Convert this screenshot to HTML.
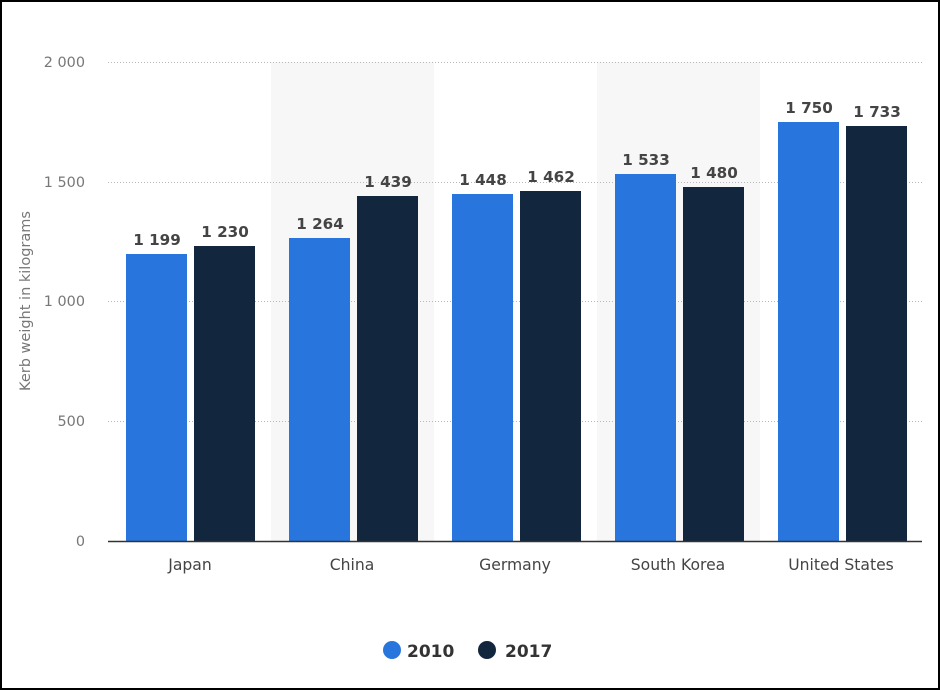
<!DOCTYPE html>
<html><head><meta charset="utf-8"><style>
html,body{margin:0;padding:0;background:#fff}
svg{display:block}
text{font-family:"DejaVu Sans","Liberation Sans",sans-serif}
</style></head><body>
<svg width="940" height="690" viewBox="0 0 940 690" xmlns="http://www.w3.org/2000/svg">
<rect x="1" y="1" width="938" height="688" fill="#fff" stroke="#000" stroke-width="2"/>
<rect x="271" y="62" width="163" height="479" fill="#f7f7f7"/>
<rect x="597" y="62" width="163" height="479" fill="#f7f7f7"/>
<g stroke="#b8b8b8" stroke-width="1" stroke-dasharray="1,2">
<line x1="108" y1="62.5" x2="922" y2="62.5"/>
<line x1="108" y1="182.5" x2="922" y2="182.5"/>
<line x1="108" y1="301.5" x2="922" y2="301.5"/>
<line x1="108" y1="421.5" x2="922" y2="421.5"/>
</g>
<g font-size="14.4" fill="#777" text-anchor="end">
<text x="85" y="67">2 000</text>
<text x="85" y="187">1 500</text>
<text x="85" y="306">1 000</text>
<text x="85" y="426">500</text>
<text x="85" y="546">0</text>
</g>
<text transform="translate(30,301) rotate(-90)" font-size="14.5" fill="#777" text-anchor="middle">Kerb weight in kilograms</text>
<g fill="#2876dd">
<rect x="126" y="254" width="61" height="287"/>
<rect x="289" y="238" width="61" height="303"/>
<rect x="452" y="194" width="61" height="347"/>
<rect x="615" y="174" width="61" height="367"/>
<rect x="778" y="122" width="61" height="419"/>
</g>
<g fill="#12263d">
<rect x="194" y="246" width="61" height="295"/>
<rect x="357" y="196" width="61" height="345"/>
<rect x="520" y="191" width="61" height="350"/>
<rect x="683" y="187" width="61" height="354"/>
<rect x="846" y="126" width="61" height="415"/>
</g>
<line x1="108" y1="541.5" x2="922" y2="541.5" stroke="#333" stroke-width="1.5"/>
<g font-size="15.2" font-weight="bold" fill="#444" text-anchor="middle">
<text x="157" y="245">1 199</text>
<text x="225" y="237">1 230</text>
<text x="320" y="229">1 264</text>
<text x="388" y="187">1 439</text>
<text x="483" y="185">1 448</text>
<text x="551" y="182">1 462</text>
<text x="646" y="165">1 533</text>
<text x="714" y="178">1 480</text>
<text x="809" y="113">1 750</text>
<text x="877" y="117">1 733</text>
</g>
<g font-size="15.6" fill="#444" text-anchor="middle">
<text x="190" y="570">Japan</text>
<text x="352" y="570">China</text>
<text x="515" y="570">Germany</text>
<text x="678" y="570">South Korea</text>
<text x="841" y="570">United States</text>
</g>
<circle cx="392" cy="650" r="9" fill="#2876dd"/>
<text x="407" y="657" font-size="17" font-weight="bold" fill="#333">2010</text>
<circle cx="487" cy="650" r="9" fill="#12263d"/>
<text x="505" y="657" font-size="17" font-weight="bold" fill="#333">2017</text>
</svg>
</body></html>
